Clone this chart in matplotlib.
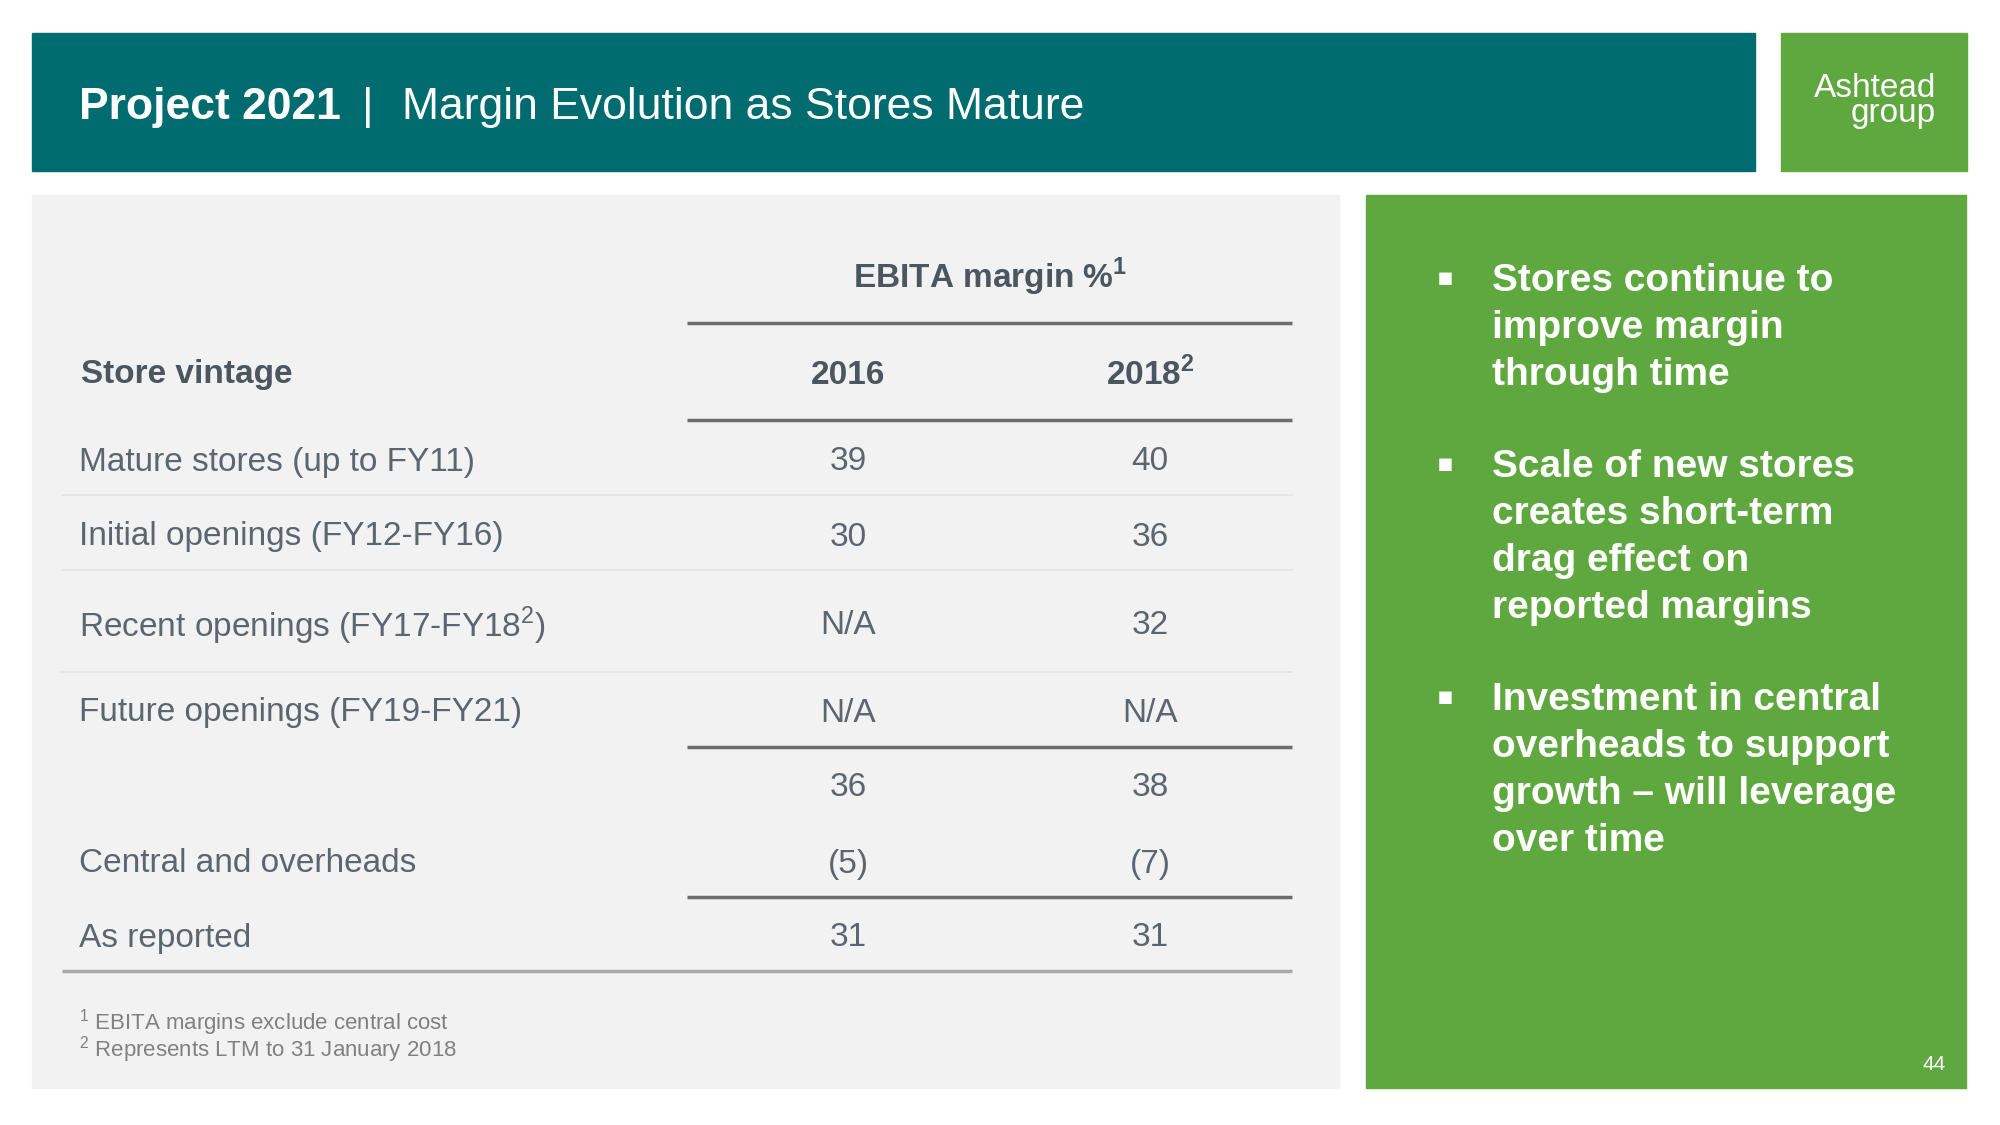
import matplotlib.pyplot as plt
from matplotlib.patches import Rectangle

plt.rcParams["font.family"] = ["Liberation Sans", "DejaVu Sans"]
plt.rcParams["mathtext.fontset"] = "custom"
plt.rcParams["mathtext.rm"] = "Liberation Sans"
plt.rcParams["mathtext.bf"] = "Liberation Sans:bold"

title_bold = "Project 2021"
title_rest = "Margin Evolution as Stores Mature"

row_labels = [
    "Mature stores (up to FY11)",
    "Initial openings (FY12-FY16)",
    r"Recent openings (FY17-FY18$^{2}$)",
    "Future openings (FY19-FY21)",
    "",
    "Central and overheads",
    "As reported",
]
margin_2016 = [39, 30, None, None, 36, -5, 31]
margin_2018 = [40, 36, 32, None, 38, -7, 31]
col_labels = ["2016", r"2018$^{\mathbf{2}}$"]

bullets = [
    ["Stores continue to", "improve margin", "through time"],
    ["Scale of new stores", "creates short-term", "drag effect on", "reported margins"],
    ["Investment in central", "overheads to support", "growth \u2013 will leverage", "over time"],
]
footnotes = [
    r"$^{1}$ EBITA margins exclude central cost",
    r"$^{2}$ Represents LTM to 31 January 2018",
]

TEAL = "#006c6f"
GREEN = "#5fa83f"
PANEL = "#f2f2f2"
HEAD = "#4b5661"
BODY = "#5b6670"
FS = 24


def fmt(v):
    if v is None:
        return "N/A"
    if v < 0:
        return f"({-v})"
    return str(v)


def main() -> None:
    fig = plt.figure(figsize=(20, 11.25), dpi=100)
    ax = fig.add_axes([0, 0, 1, 1])
    ax.set_xlim(0, 2000)
    ax.set_ylim(1125, 0)
    ax.axis("off")

    # header bar and logo
    ax.add_patch(Rectangle((32, 33), 1723, 138, color=TEAL))
    ax.add_patch(Rectangle((1781, 33), 186, 138, color=GREEN))
    ax.text(79, 108, title_bold, color="white", fontsize=32, fontweight="bold", va="center")
    ax.text(362, 108, "|", color="white", fontsize=32, va="center")
    ax.text(402, 108, title_rest, color="white", fontsize=32, va="center")
    ax.text(1936, 101, "Ashtead\ngroup", color="white", fontsize=24, ha="right",
            va="center", multialignment="right", linespacing=0.78)

    # panels
    ax.add_patch(Rectangle((32, 195), 1307, 893, color=PANEL))
    ax.add_patch(Rectangle((1366, 195), 600, 893, color=GREEN))

    # table header
    col_x = [848, 1150]
    ax.text(990, 277, r"EBITA margin %$^{\mathbf{1}}$", color=HEAD, fontsize=FS,
            fontweight="bold", ha="center", va="center")
    ax.text(81, 375, "Store vintage", color=HEAD, fontsize=FS, fontweight="bold", va="center")
    for x, lab in zip(col_x, col_labels):
        ax.text(x, 375, lab, color=HEAD, fontsize=FS, fontweight="bold", ha="center", va="center")

    # table rows
    row_y = [462, 537, 626, 713, 788, 864, 938]
    for y, lab, a, b in zip(row_y, row_labels, margin_2016, margin_2018):
        ax.text(79, y, lab, color=BODY, fontsize=FS, va="center")
        ax.text(col_x[0], y, fmt(a), color=BODY, fontsize=FS, ha="center", va="center")
        ax.text(col_x[1], y, fmt(b), color=BODY, fontsize=FS, ha="center", va="center")

    # rules
    for y in (323, 420, 747, 897):
        ax.plot([687, 1292], [y, y], color="#6d6d6d", lw=2.5, solid_capstyle="butt")
    for y in (495, 570, 672):
        ax.plot([62, 1292], [y, y], color="#e3e3e3", lw=1.2)
    ax.plot([62, 1292], [971, 971], color="#a8a8a8", lw=2.5, solid_capstyle="butt")

    for i, note in enumerate(footnotes):
        ax.text(79, 1023 + 27 * i, note, color="#808080", fontsize=16, va="center")

    # bullets
    y = 281
    for block in bullets:
        ax.text(1445, y - 3, "\u25aa", color="white", fontsize=18, ha="center", va="center",
                family=["DejaVu Sans"])
        for line in block:
            ax.text(1492, y, line, color="white", fontsize=28, fontweight="bold", va="center")
            y += 47
        y += 45

    ax.text(1946, 1065, "44", color="white", fontsize=15, ha="right", va="center")

    fig.savefig("out.png", dpi=100)


if __name__ == "__main__":
    main()
